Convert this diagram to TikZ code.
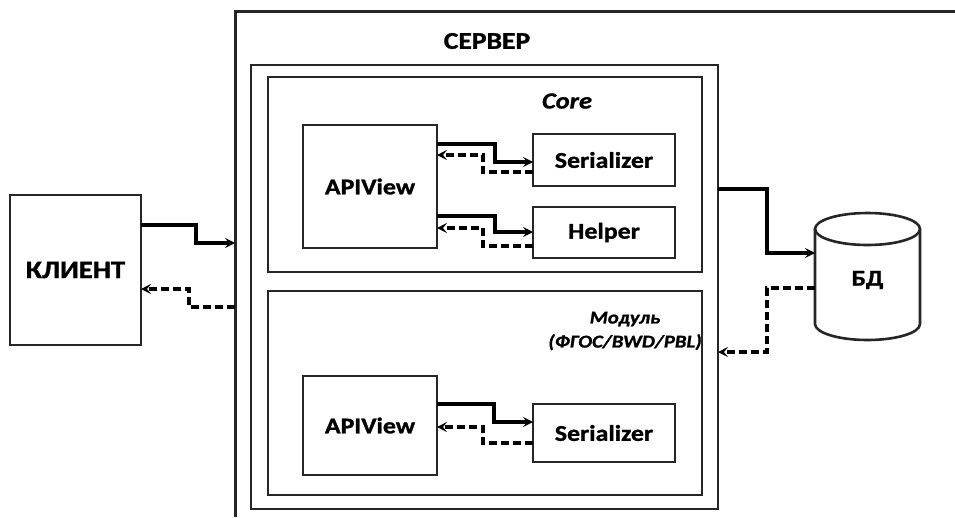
\documentclass[tikz,border=0pt]{standalone}
\usepackage{fontspec}
\setmainfont{Carlito}
\newfontfamily\heavyfont{Carlito}[FakeStretch=1.15,FakeBold=1.2]
\usetikzlibrary{arrows.meta}
\begin{document}
\begin{tikzpicture}[x=1pt,y=-1pt,
  box/.style={draw=black!85,line width=2.8pt,inner sep=0pt,outer sep=0pt},
  lbl/.style={font=\heavyfont\bfseries\fontsize{22.5}{26}\selectfont},
  ttl/.style={font=\heavyfont\bfseries\itshape\fontsize{18}{24}\selectfont,align=center},
  tip/.style={-{Stealth[length=10pt,width=10pt,inset=4pt]}},
  sol/.style={tip,line width=3.3pt},
  solthick/.style={tip,line width=4.2pt},
  dsh/.style={tip,line width=3.2pt,dash pattern=on 8pt off 4pt}]
\useasboundingbox (0,0) rectangle (955,517);

% server frame, open to the right and bottom
\draw[line width=3pt,draw=black!85] (955,11) -- (235,11) -- (235,517);
\node[lbl,font=\heavyfont\bfseries\fontsize{24}{28}\selectfont] (srv) at (487,41) {СЕРВЕР};

% containers
\node[box,minimum width=467pt,minimum height=444pt] (cont) at (484.5,287) {};
\node[box,minimum width=434pt,minimum height=195pt] (core) at (485,174.5) {};
\node[box,minimum width=434pt,minimum height=204pt] (mod) at (485,393) {};
\node[ttl,font=\heavyfont\bfseries\itshape\fontsize{23}{26}\selectfont] (coret) at (567,101) {Core};
\node[ttl] (modt) at (625,331) {Модуль\\(ФГОС/BWD/PBL)};

% inner blocks
\node[box,lbl,minimum width=134pt,minimum height=123pt] (api1) at (370,186.5) {APIView};
\node[box,lbl,minimum width=142pt,minimum height=52pt] (ser1) at (604,160) {Serializer};
\node[box,lbl,minimum width=142pt,minimum height=51pt] (help) at (604,232.5) {Helper};
\node[box,lbl,minimum width=134pt,minimum height=99pt] (api2) at (370,425.5) {APIView};
\node[box,lbl,minimum width=142pt,minimum height=58pt] (ser2) at (604,433) {Serializer};

% client
\node[box,lbl,font=\heavyfont\bfseries\fontsize{25}{28}\selectfont,line width=2.6pt,
      minimum width=131pt,minimum height=150pt] (cli) at (75.5,270) {КЛИЕНТ};

% database cylinder
\coordinate (dbw) at (815,229);
\draw[line width=2.6pt,draw=black!85,fill=white]
  (815,229) -- (815,324) arc[start angle=180,end angle=360,x radius=52.5pt,y radius=16pt]
  -- (920,229);
\draw[line width=2.6pt,draw=black!85] (867.5,229) ellipse[x radius=52.5pt,y radius=16pt];
\node[lbl] (db) at (867.5,280) {БД};

% client <-> server
\draw[sol] (cli.east |- 0,225) -- (196,225) -- (196,243) -- (235,243);
\draw[dsh] (235,307) -- (189,307) -- (189,289) -- (cli.east |- 0,289);

% core: APIView <-> Serializer
\draw[sol] (api1.east |- 0,144) -- (495,144) -- (495,162) -- (ser1.west |- 0,162);
\draw[dsh] (ser1.west |- 0,172) -- (483,172) -- (483,155) -- (api1.east |- 0,155);
% core: APIView <-> Helper
\draw[sol] (api1.east |- 0,216) -- (495,216) -- (495,232) -- (help.west |- 0,232);
\draw[dsh] (help.west |- 0,246) -- (483,246) -- (483,228) -- (api1.east |- 0,228);
% module: APIView <-> Serializer
\draw[sol] (api2.east |- 0,404) -- (494,404) -- (494,422) -- (ser2.west |- 0,422);
\draw[dsh] (ser2.west |- 0,443) -- (483,443) -- (483,427) -- (api2.east |- 0,427);

% server <-> database
\draw[solthick] (cont.east |- 0,189) -- (767,189) -- (767,253) -- (dbw |- 0,253);
\draw[dsh,line width=3.6pt] (dbw |- 0,288) -- (767,288) -- (767,352) -- (cont.east |- 0,352);
\end{tikzpicture}
\end{document}
